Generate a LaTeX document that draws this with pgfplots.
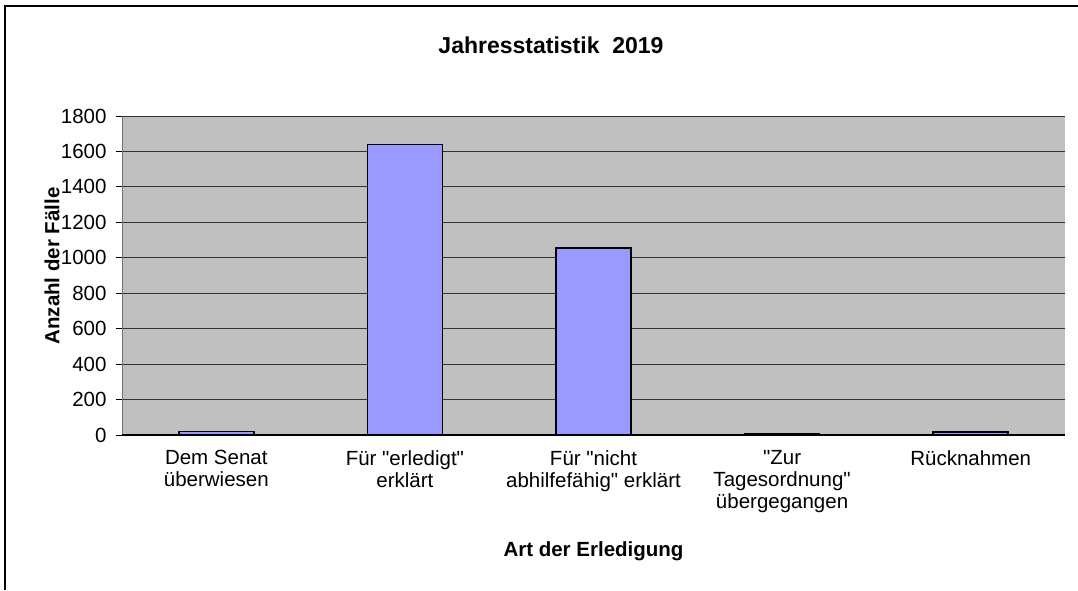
\documentclass[border=0pt]{standalone}
\usepackage{pgfplots}
\pgfplotsset{compat=1.18}
\usepackage{fontspec}
\setmainfont{Liberation Sans}
\definecolor{barblue}{HTML}{9999FF}
\definecolor{plotgray}{HTML}{C0C0C0}
\begin{document}
\begin{tikzpicture}[x=1pt,y=1pt]
\useasboundingbox (0,0) rectangle (1078,590);
\draw[line width=1.2pt] (5,0) -- (5,584) -- (1078,584);
\node[font=\fontsize{23}{26}\selectfont\bfseries] at (551,545) {Jahresstatistik\ \ 2019};
\begin{axis}[
  at={(122pt,155pt)}, anchor=south west,
  scale only axis, width=943pt, height=319pt,
  xmin=0, xmax=5, ymin=0, ymax=1800,
  axis background/.style={fill=plotgray},
  axis line style={draw=gray!90!black, line width=1pt},
  axis x line*=bottom, axis y line*=left,
  ytick={0,200,...,1800},
  ymajorgrids, grid style={black!80, line width=0.8pt},
  major tick length=6pt, minor tick length=6pt,
  tick style={black, line width=0.8pt},
  y tick label style={font=\fontsize{20.5}{24}\selectfont},
  /pgf/number format/assume math mode=true,
  /pgf/number format/1000 sep={},
  yticklabel style={xshift=-6pt},
  xtick={0.5,1.5,2.5,3.5,4.5},
  xticklabels={{Dem Senat\\überwiesen},{Für \textquotedbl erledigt\textquotedbl\\erklärt},{Für \textquotedbl nicht\\abhilfefähig\textquotedbl\ erklärt},{\textquotedbl Zur\\Tagesordnung\textquotedbl\\übergegangen},{Rücknahmen}},
  x tick label style={font=\fontsize{20.5}{22}\selectfont, align=center, anchor=north, yshift=-6pt},
  xtick style={draw=none},
  minor xtick={0,1,2,3,4,5},
  minor x tick style={black, line width=0.8pt},
  tick align=outside,
  xlabel={\bfseries Art der Erledigung},
  xlabel style={font=\fontsize{20.5}{24}\selectfont, at={(axis description cs:0.5,0)}, anchor=center, yshift=-116pt},
  ylabel={\bfseries Anzahl der Fälle},
  ylabel style={font=\fontsize{20.5}{24}\selectfont, at={(axis description cs:0,0.53)}, anchor=center, rotate=0, yshift=70pt},
  clip=false,
]
\addplot[ybar, bar width=75pt, fill=barblue, draw=black, line width=1.6pt]
  coordinates {(0.5,20) (1.5,1640) (2.5,1055) (3.5,6) (4.5,16)};
\draw[black, line width=1.6pt] (axis cs:0,0) -- (axis cs:5,0);
\end{axis}
\end{tikzpicture}
\end{document}
